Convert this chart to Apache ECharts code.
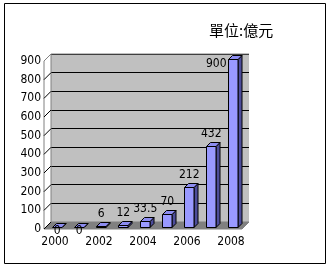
<!DOCTYPE html>
<html><head><meta charset="utf-8">
<script src="https://cdn.jsdelivr.net/npm/echarts@6/dist/echarts.min.js"></script>
<style>html,body{margin:0;padding:0;background:#fff}#c{width:333px;height:270px}</style>
</head><body><div id="c"></div>
<script>
const categories = ['2000','2001','2002','2003','2004','2005','2006','2007','2008'];
const values = [0, 0, 6, 12, 33.5, 70, 212, 432, 900];
const valueLabels = ['0','0','6','12','33.5','70','212','432','900'];
const yTicks = [0,100,200,300,400,500,600,700,800,900];
const unitTitle = '單位:億元';

const FONT = "'Liberation Sans Narrow','DejaVu Sans Condensed','Arial Narrow',sans-serif";
const DEPTH = 7;
const chart = echarts.init(document.getElementById('c'), null, {renderer:'canvas'});

function renderFrame(params, api){
  const cs = params.coordSys;
  const L = cs.x, R = cs.x + cs.width, B = cs.y + cs.height, T = cs.y;
  const children = [];
  children.push({type:'polygon', shape:{points:[[L,B],[R,B],[R+DEPTH,B-DEPTH],[L+DEPTH,B-DEPTH]]},
    style:{fill:'#808080', stroke:'#808080', lineWidth:1}});
  children.push({type:'line', shape:{x1:L+DEPTH,y1:T-DEPTH,x2:R+DEPTH,y2:T-DEPTH}, style:{stroke:'#808080',lineWidth:1}});
  children.push({type:'line', shape:{x1:L+DEPTH,y1:T-DEPTH,x2:L+DEPTH,y2:B-DEPTH}, style:{stroke:'#808080',lineWidth:1}});
  children.push({type:'line', shape:{x1:L,y1:T,x2:L,y2:B}, style:{stroke:'#808080',lineWidth:1}});
  yTicks.forEach(function(t, i){
    const p = api.coord([0, t]);
    children.push({type:'line', shape:{x1:L,y1:p[1],x2:L+DEPTH,y2:p[1]-DEPTH},
      style:{stroke: i === yTicks.length-1 ? '#808080' : '#000', lineWidth:1}});
  });
  return {type:'group', children:children};
}

function renderBar(params, api){
  const idx = api.value(0), v = api.value(1);
  const cs = params.coordSys;
  const base = api.coord([idx, 0]);
  const top = api.coord([idx, v]);
  const bw = api.size([1,0])[0]*0.45;
  const ox = 2, oy = -2, d = 4;
  const x0 = Math.round(base[0] - bw/2 + ox) + 0.5, x1 = Math.round(x0 + bw);
  const yb = Math.round(base[1] + oy) + 0.5, yt = Math.round(top[1] + oy) + 0.5;
  const children = [];
  children.push({type:'polygon', shape:{points:[[x1,yb],[x1+d,yb-d],[x1+d,yt-d],[x1,yt]]},
    style:{fill:'#4d4d9a', stroke:'#000', lineWidth:1}});
  children.push({type:'polygon', shape:{points:[[x0,yt],[x1,yt],[x1+d,yt-d],[x0+d,yt-d]]},
    style:{fill:'#8c8cf0', stroke:'#000', lineWidth:1}});
  if (yb - yt > 0) children.push({type:'rect', shape:{x:x0,y:yt,width:x1-x0,height:yb-yt},
    style:{fill:'#9999ff', stroke:'#000', lineWidth:1}});
  const label = valueLabels[params.dataIndex];
  let tx = (x0+x1)/2, ty = yt - 13, align = 'center';
  if (v === 0) { ty = base[1] + 2; }
  else if (ty < cs.y) { tx = x0 - 2; ty = yt + 4; align = 'right'; }
  children.push({type:'text', style:{text:label, x:tx, y:ty, align:align, verticalAlign:'middle',
    fill:'#000', font:'12px ' + FONT}, z2:10});
  return {type:'group', children:children};
}

chart.setOption({
  animation:false,
  title:{text:unitTitle, left:204, top:18, textStyle:{fontSize:15, fontWeight:'normal', color:'#000', fontFamily:"'Noto Sans CJK TC',sans-serif"}},
  grid:[
    {left:44, top:61, width:198, height:168},
    {left:51, top:54, width:198, height:168, show:true, backgroundColor:'#c0c0c0', borderWidth:0}
  ],
  xAxis:[
    {type:'category', gridIndex:0, data:categories, axisLine:{show:false}, axisTick:{show:false},
     axisLabel:{interval:1, color:'#000', fontSize:12, fontFamily:FONT, margin:7}},
    {type:'category', gridIndex:1, data:categories, show:false}
  ],
  yAxis:[
    {type:'value', gridIndex:0, min:0, max:900, interval:100, splitLine:{show:false},
     axisLine:{show:false}, axisTick:{show:false},
     axisLabel:{color:'#000', fontSize:12, fontFamily:FONT, margin:3}},
    {type:'value', gridIndex:1, min:0, max:900, interval:100, axisLine:{show:false}, axisTick:{show:false},
     axisLabel:{show:false}, splitLine:{show:true, lineStyle:{color:'#000', width:1}}}
  ],
  graphic:[{type:'rect', shape:{x:4.5, y:3.5, width:321, height:260}, style:{fill:'none', stroke:'#000', lineWidth:1}}],
  series:[
    {type:'custom', xAxisIndex:0, yAxisIndex:0, renderItem:renderFrame, data:[[0,0]], z:1, silent:true},
    {type:'custom', xAxisIndex:0, yAxisIndex:0, renderItem:renderBar,
     data: values.map(function(v,i){return [i, v];}), z:3, silent:true}
  ]
});
</script></body></html>
